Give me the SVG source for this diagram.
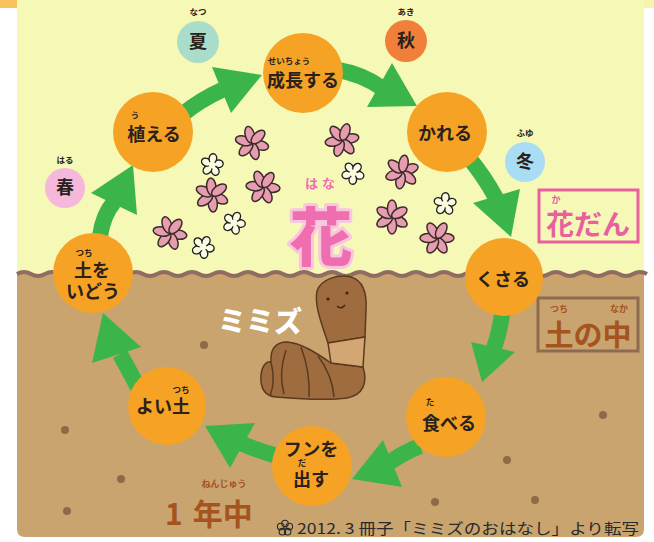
<svg xmlns="http://www.w3.org/2000/svg" xmlns:xlink="http://www.w3.org/1999/xlink" width="654" height="542" viewBox="0 0 654 542">
  <style>
    .jp { font-family: "Noto Sans CJK JP", "Noto Sans", sans-serif; }
    .lbl { font-family: "Noto Sans CJK JP", sans-serif; font-weight: 700; font-size: 18px; fill: #2a211a; text-anchor: middle; }
    .ruby { font-family: "Noto Sans CJK JP", sans-serif; font-weight: 700; font-size: 8.5px; fill: #2a211a; text-anchor: middle; }
    .node { fill: #F6A325; }
    .arrow { fill: #3BB54A; }
    .shaft { fill: none; stroke: #3BB54A; stroke-width: 16; stroke-linecap: butt; }
    .dot { fill: #8E6A48; }
    .petal { fill: #E69DB0; stroke: #3b2a2a; stroke-width: 1.5; }
    .wpetal { fill: #FBFBE2; stroke: #1f1f1f; stroke-width: 1.4; }
  </style>
  <defs>
    <g id="pinkFlower">
      <ellipse class="petal" cx="8.5" cy="0" rx="8.5" ry="4.6" transform="rotate(0)"/>
      <ellipse class="petal" cx="8.5" cy="0" rx="8.5" ry="4.6" transform="rotate(60)"/>
      <ellipse class="petal" cx="8.5" cy="0" rx="8.5" ry="4.6" transform="rotate(120)"/>
      <ellipse class="petal" cx="8.5" cy="0" rx="8.5" ry="4.6" transform="rotate(180)"/>
      <ellipse class="petal" cx="8.5" cy="0" rx="8.5" ry="4.6" transform="rotate(240)"/>
      <ellipse class="petal" cx="8.5" cy="0" rx="8.5" ry="4.6" transform="rotate(300)"/>
    </g>
    <g id="whiteFlower">
      <ellipse class="wpetal" cx="6.5" cy="0" rx="4.8" ry="3.8" transform="rotate(0)"/>
      <ellipse class="wpetal" cx="6.5" cy="0" rx="4.8" ry="3.8" transform="rotate(72)"/>
      <ellipse class="wpetal" cx="6.5" cy="0" rx="4.8" ry="3.8" transform="rotate(144)"/>
      <ellipse class="wpetal" cx="6.5" cy="0" rx="4.8" ry="3.8" transform="rotate(216)"/>
      <ellipse class="wpetal" cx="6.5" cy="0" rx="4.8" ry="3.8" transform="rotate(288)"/>
      <circle cx="0" cy="0" r="3.4" fill="#FBFBE2"/>
    </g>
  </defs>

  <!-- page background -->
  <rect x="0" y="0" width="654" height="542" fill="#ffffff"/>
  <rect x="0" y="0" width="17" height="8" fill="#F8C25C"/>
  <rect x="17" y="0" width="637" height="8" fill="#F6F4A8"/>

  <!-- garden bed (upper) -->
  <rect x="17" y="0" width="627" height="285" fill="#F6F8B6"/>

  <!-- soil (lower) with wavy top -->
  <path d="M17,274 q7,-4 14,0 t14,0 t14,0 t14,0 t14,0 t14,0 t14,0 t14,0 t14,0 t14,0 t14,0 t14,0 t14,0 t14,0 t14,0 t14,0 t14,0 t14,0 t14,0 t14,0 t14,0 t14,0 t14,0 t14,0 t14,0 t14,0 t14,0 t14,0 t14,0 t14,0 t14,0 t14,0 t14,0 t14,0 t14,0 t14,0 t14,0 t14,0 t14,0 t14,0 t14,0 t14,0 t14,0 t14,0 t14,0 L644,274 L644,529 Q644,537 636,537 L25,537 Q17,537 17,529 Z" fill="#C9A46E"/>
  <path d="M17,274 q7,-4 14,0 t14,0 t14,0 t14,0 t14,0 t14,0 t14,0 t14,0 t14,0 t14,0 t14,0 t14,0 t14,0 t14,0 t14,0 t14,0 t14,0 t14,0 t14,0 t14,0 t14,0 t14,0 t14,0 t14,0 t14,0 t14,0 t14,0 t14,0 t14,0 t14,0 t14,0 t14,0 t14,0 t14,0 t14,0 t14,0 t14,0 t14,0 t14,0 t14,0 t14,0 t14,0 t14,0 t14,0 t14,0" fill="none" stroke="#8E6C62" stroke-width="4"/>

  <!-- pebbles in the soil -->
  <g id="pebbles">
    <circle class="dot" cx="204" cy="345" r="4"/>
    <circle class="dot" cx="65" cy="430" r="4"/>
    <circle class="dot" cx="121" cy="479" r="4"/>
    <circle class="dot" cx="67" cy="511" r="4"/>
    <circle class="dot" cx="603" cy="415" r="4"/>
    <circle class="dot" cx="507" cy="460" r="4"/>
    <circle class="dot" cx="435" cy="502" r="4"/>
    <circle class="dot" cx="535" cy="500" r="4"/>
  </g>

  <!-- flowers -->
  <g id="flowers">
    <use xlink:href="#pinkFlower" transform="translate(252,143) rotate(15)"/>
    <use xlink:href="#pinkFlower" transform="translate(342,140) rotate(-10)"/>
    <use xlink:href="#pinkFlower" transform="translate(212,195) rotate(25)"/>
    <use xlink:href="#pinkFlower" transform="translate(263,187) rotate(5)"/>
    <use xlink:href="#pinkFlower" transform="translate(402,172) rotate(-20)"/>
    <use xlink:href="#pinkFlower" transform="translate(170,233) rotate(10)"/>
    <use xlink:href="#pinkFlower" transform="translate(392,217) rotate(30)"/>
    <use xlink:href="#pinkFlower" transform="translate(437,238) rotate(0)"/>
    <use xlink:href="#whiteFlower" transform="translate(212,165) rotate(-10)"/>
    <use xlink:href="#whiteFlower" transform="translate(353,173) rotate(20)"/>
    <use xlink:href="#whiteFlower" transform="translate(234,223) rotate(5)"/>
    <use xlink:href="#whiteFlower" transform="translate(445,204) rotate(-15)"/>
    <use xlink:href="#whiteFlower" transform="translate(203,247) rotate(10)"/>
  </g>

  <!-- big title "flower" -->
  <g id="hana">
    <text x="322" y="188" class="jp" font-size="13" font-weight="700" fill="#EE6EB0" text-anchor="middle" letter-spacing="4">はな</text>
    <text x="321" y="260" class="jp" font-size="63" font-weight="900" fill="#EE6EB0" stroke="#F9C6DF" stroke-width="6" paint-order="stroke" stroke-linejoin="round" text-anchor="middle">花</text>
  </g>

  <!-- section labels -->
  <g id="kadan">
    <rect x="539" y="190" width="99" height="52" fill="none" stroke="#E9609F" stroke-width="3"/>
    <text x="556" y="203" class="jp" font-size="9" font-weight="700" fill="#E9609F" text-anchor="middle">か</text>
    <text x="588" y="235" class="jp" font-size="28" font-weight="700" fill="#E9609F" text-anchor="middle">花だん</text>
  </g>
  <g id="tsuchinonaka">
    <rect x="538" y="298" width="100" height="53" fill="none" stroke="#8E6A50" stroke-width="3"/>
    <text x="559" y="312" class="jp" font-size="9" font-weight="700" fill="#A5531F" text-anchor="middle">つち</text>
    <text x="619" y="312" class="jp" font-size="9" font-weight="700" fill="#A5531F" text-anchor="middle">なか</text>
    <text x="588" y="346" class="jp" font-size="29" font-weight="700" fill="#A5531F" text-anchor="middle">土の中</text>
  </g>
  <g id="ichinenju">
    <text x="224" y="487" class="jp" font-size="9" font-weight="700" fill="#A5531F" text-anchor="middle">ねんじゅう</text>
    <text x="165" y="525" class="jp" font-size="30" font-weight="700" fill="#A5531F">1<tspan dx="10">年中</tspan></text>
  </g>

  <!-- earthworm: curled lower body, banded neck, upright head -->
  <g id="worm" stroke="#5B3A1E" stroke-width="1.5" stroke-linejoin="round">
    <path d="M331,363 C315,352 301,343 287,342 C275,342 270,350 271,362 C266,361 262,366 261,375 C260,388 264,396 276,397 C300,399 326,401 347,398 C363,395 368,383 363,367 Z" fill="#9E6C3F"/>
    <path d="M328,343 C322,325 314,305 317,291 C321,279 338,274 351,277 C364,281 367,295 366,310 L365,337 Z" fill="#9E6C3F"/>
    <path d="M328,343 L365,337 L363,367 L331,363 Z" fill="#D3A674"/>
    <path d="M301,347 C307,363 310,380 309,397" fill="none"/>
    <path d="M286,350 C281,365 280,380 284,394" fill="none"/>
    <path d="M318,356 C327,368 333,383 334,397" fill="none"/>
    <path d="M271,362 C274,374 274,386 270,396" fill="none"/>
    <circle cx="328" cy="299" r="1.6" fill="#3a2414" stroke="none"/>
    <circle cx="347" cy="293" r="1.6" fill="#3a2414" stroke="none"/>
    <path d="M337,306 q4,4 8,-1" fill="none" stroke="#3a2414" stroke-width="1.3"/>
  </g>
  <g id="mimizu">
    <text x="260" y="332" class="jp" font-size="28" font-weight="900" fill="#ffffff" text-anchor="middle">ミミズ</text>
  </g>

  <!-- cycle connectors -->
  <g id="connectors">
    <path class="shaft" d="M183,114 Q200,100 222,90"/>
    <polygon class="arrow" points="212,67 262,75 231,113"/>
    <path class="shaft" d="M338,70 Q362,74 382,88"/>
    <polygon class="arrow" points="392,63 417,106 367,107"/>
    <path class="shaft" d="M469,158 Q484,176 496,198"/>
    <polygon class="arrow" points="473,203 520,189 511,237"/>
    <path class="shaft" d="M502,314 Q500,330 494,348"/>
    <polygon class="arrow" points="471,342 515,352 482,382"/>
    <path class="shaft" d="M420,446 Q405,452 390,462"/>
    <polygon class="arrow" points="383,440 352,479 402,487"/>
    <path class="shaft" d="M274,455 Q256,450 238,442"/>
    <polygon class="arrow" points="255,423 205,426 230,468"/>
    <path class="shaft" d="M141,393 Q130,372 120,354"/>
    <polygon class="arrow" points="141,347 103,313 92,363"/>
    <path class="shaft" d="M100,236 Q103,215 114,202"/>
    <polygon class="arrow" points="91,193 133,165 137,215"/>
  </g>

  <!-- seasons -->
  <g id="season-summer">
    <circle cx="198" cy="42" r="21" fill="#A9DCC9"/>
    <text x="198" y="15" class="ruby">なつ</text>
    <text x="198" y="48" class="lbl">夏</text>
  </g>
  <g id="season-autumn">
    <circle cx="406" cy="41" r="21" fill="#F07F3A"/>
    <text x="406" y="15" class="ruby">あき</text>
    <text x="406" y="47" class="lbl">秋</text>
  </g>
  <g id="season-winter">
    <circle cx="525" cy="162" r="20" fill="#A9DDF4"/>
    <text x="525" y="136" class="ruby">ふゆ</text>
    <text x="525" y="168" class="lbl">冬</text>
  </g>
  <g id="season-spring">
    <circle cx="65" cy="188" r="20" fill="#F5B8DB"/>
    <text x="65" y="163" class="ruby">はる</text>
    <text x="65" y="194" class="lbl">春</text>
  </g>

  <!-- cycle steps -->
  <g id="step-plant">
    <circle class="node" cx="153" cy="132" r="40"/>
    <text x="135" y="118" class="ruby">う</text>
    <text x="154" y="141" class="lbl">植える</text>
  </g>
  <g id="step-grow">
    <circle class="node" cx="303" cy="73" r="40"/>
    <text x="289" y="64" class="ruby">せいちょう</text>
    <text x="303" y="87" class="lbl">成長する</text>
  </g>
  <g id="step-wither">
    <circle class="node" cx="447" cy="132" r="40"/>
    <text x="445" y="140" class="lbl">かれる</text>
  </g>
  <g id="step-rot">
    <circle class="node" cx="504" cy="277" r="39"/>
    <text x="503" y="286" class="lbl">くさる</text>
  </g>
  <g id="step-eat">
    <circle class="node" cx="446" cy="417" r="40"/>
    <text x="430" y="405" class="ruby">た</text>
    <text x="449" y="430" class="lbl">食べる</text>
  </g>
  <g id="step-excrete">
    <circle class="node" cx="312" cy="466" r="40"/>
    <text x="311" y="456" class="lbl">フンを</text>
    <text x="302" y="466" class="ruby">だ</text>
    <text x="311" y="486" class="lbl">出す</text>
  </g>
  <g id="step-goodsoil">
    <circle class="node" cx="167" cy="406" r="39"/>
    <text x="181" y="393" class="ruby">つち</text>
    <text x="163" y="413" class="lbl">よい土</text>
  </g>
  <g id="step-tillsoil">
    <circle class="node" cx="93" cy="273" r="40"/>
    <text x="84" y="256" class="ruby">つち</text>
    <text x="92" y="277" class="lbl">土を</text>
    <text x="93" y="298" class="lbl">いどう</text>
  </g>

  <!-- source note -->
  <g id="credit">
    <g transform="translate(285,528)" fill="none" stroke="#2a2a2a" stroke-width="1.1">
      <circle cx="0" cy="-4.5" r="3.3"/>
      <circle cx="4.3" cy="-1.4" r="3.3"/>
      <circle cx="2.6" cy="3.7" r="3.3"/>
      <circle cx="-2.6" cy="3.7" r="3.3"/>
      <circle cx="-4.3" cy="-1.4" r="3.3"/>
    </g>
    <text x="297" y="534" class="jp" font-size="15" fill="#2a2a2a" textLength="342" lengthAdjust="spacingAndGlyphs">2012. 3 冊子「ミミズのおはなし」より転写</text>
  </g>
</svg>
